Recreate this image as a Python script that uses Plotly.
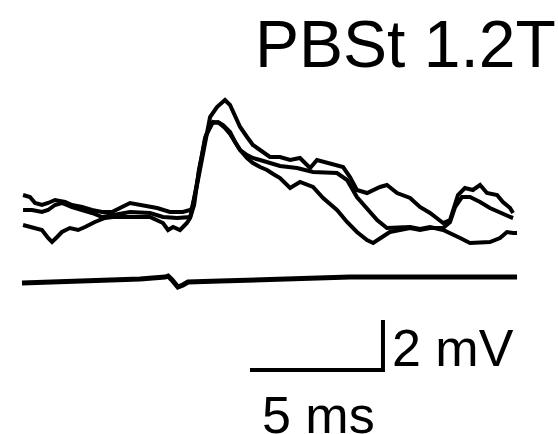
import plotly.graph_objects as go

# Evoked responses (time in ms, amplitude in mV)
t1 = [0.04, 0.38, 0.75, 0.98, 1.13, 1.32, 1.50, 1.80, 2.11, 2.37, 2.74, 3.12, 3.42, 4.06, 4.81, 5.30, 5.49, 5.68, 5.94, 6.20, 6.32,
      6.47, 6.65, 6.92, 7.18, 7.41, 7.63, 7.82, 8.01, 8.20, 8.46, 8.68, 8.95, 9.21, 9.44, 9.70, 10.08, 10.45, 10.94, 11.32, 11.84,
      12.22, 12.59, 12.97, 13.20, 13.57, 13.83, 14.21, 14.59, 14.96, 15.34, 15.83, 16.09, 16.28, 16.54, 16.84, 17.22, 17.59, 17.97, 18.35, 18.46]
v1 = [-0.60, -0.68, -0.80, -1.12, -1.28, -1.08, -0.88, -0.72, -0.80, -0.68, -0.48, -0.32, -0.28, -0.28, -0.28, -0.52, -0.80, -0.68, -0.80, -0.52, -0.32,
      0.20, 1.60, 3.00, 3.52, 3.48, 3.28, 3.04, 2.68, 2.40, 2.08, 1.88, 1.72, 1.60, 1.44, 1.28, 0.88, 1.12, 0.92, 0.48, 0.00,
      -0.48, -0.88, -1.20, -1.32, -1.08, -0.88, -0.80, -0.72, -0.80, -0.72, -0.72, -0.48, 0.12, 0.52, 0.52, 0.32, 0.08, -0.12, -0.28, -0.32]

t2 = [0.04, 0.38, 0.75, 0.98, 1.24, 1.50, 1.88, 2.26, 2.63, 3.01, 3.38, 4.06, 4.81, 5.30, 5.83, 6.32,
      6.43, 6.62, 6.88, 7.14, 7.37, 7.56, 7.82, 8.01, 8.20, 8.46, 8.68, 8.95, 9.32, 9.70, 10.34, 10.94, 11.84, 12.22,
      12.59, 12.97, 13.35, 13.72, 14.21, 14.59, 14.96, 15.34, 15.83, 16.09, 16.47, 16.84, 17.22, 17.59, 17.97, 18.23, 18.46, 18.61]
v2 = [0.00, 0.00, -0.08, 0.00, 0.20, 0.28, 0.12, 0.00, -0.12, -0.28, -0.20, -0.08, -0.12, -0.28, -0.32, -0.28,
      0.20, 1.40, 2.88, 3.48, 3.52, 3.40, 3.12, 2.72, 2.40, 2.20, 2.08, 2.00, 1.88, 1.76, 1.68, 1.52, 1.48, 1.20,
      0.52, 0.08, -0.40, -0.72, -0.72, -0.68, -0.76, -0.68, -0.80, -0.92, -1.12, -1.32, -1.28, -1.28, -1.12, -0.88, -0.92, -0.92]

t3 = [0.04, 0.30, 0.49, 0.75, 0.98, 1.24, 1.62, 1.88, 2.26, 2.63, 3.01, 3.38, 4.06, 4.55, 5.08, 5.56, 6.05, 6.32,
      6.39, 6.58, 6.88, 7.07, 7.33, 7.63, 7.82, 8.01, 8.20, 8.46, 8.68, 8.95, 9.32, 9.70, 10.08, 10.45, 10.83, 11.09,
      11.58, 12.07, 12.33, 12.59, 12.97, 13.46, 13.72, 14.10, 14.59, 14.96, 15.34, 15.60, 15.83, 16.09, 16.20, 16.39,
      16.65, 16.95, 17.22, 17.48, 17.86, 18.08, 18.35, 18.46]
v3 = [0.60, 0.52, 0.28, 0.20, 0.28, 0.40, 0.32, 0.20, 0.12, 0.00, -0.08, -0.08, 0.28, 0.20, 0.08, -0.08, -0.08, 0.00,
      0.08, 1.00, 2.80, 3.72, 4.12, 4.40, 4.20, 3.72, 3.32, 2.92, 2.60, 2.40, 2.12, 2.12, 2.00, 2.08, 1.68, 2.00,
      1.88, 1.72, 1.32, 0.80, 0.68, 0.92, 1.00, 0.68, 0.48, 0.12, -0.12, -0.32, -0.52, -0.40, 0.00, 0.60,
      0.88, 0.80, 1.00, 0.68, 0.60, 0.32, 0.08, -0.12]

# Reference (stimulus) trace
t_ref = [0.00, 1.43, 2.93, 4.44, 5.38, 5.49, 5.64, 5.86, 6.05, 6.24, 7.44, 8.95, 10.38, 12.33, 14.21, 16.09, 18.61]
v_ref = [-2.92, -2.88, -2.84, -2.76, -2.68, -2.64, -2.80, -3.08, -3.00, -2.88, -2.84, -2.80, -2.72, -2.68, -2.68, -2.68, -2.68]

# Scale bar: 5 ms horizontal, 2 mV vertical
bar_t0 = 8.57
bar_v0 = -6.4
bar_ms = 5
bar_mv = 2

title_text = "PBSt 1.2T"
ms_label = "5 ms"
mv_label = "2 mV"

fig = go.Figure()
for t, v in [(t1, v1), (t2, v2), (t3, v3)]:
    fig.add_trace(go.Scatter(x=t, y=v, mode="lines",
                             line=dict(color="black", width=4),
                             hoverinfo="skip", showlegend=False))
fig.add_trace(go.Scatter(x=t_ref, y=v_ref, mode="lines",
                         line=dict(color="black", width=5),
                         hoverinfo="skip", showlegend=False))
fig.add_trace(go.Scatter(x=[bar_t0, bar_t0 + bar_ms, bar_t0 + bar_ms],
                         y=[bar_v0, bar_v0, bar_v0 + bar_mv], mode="lines",
                         line=dict(color="black", width=4),
                         hoverinfo="skip", showlegend=False))

font = "Liberation Sans, Arial, sans-serif"
fig.add_annotation(x=8.68, y=6.66, text=title_text, showarrow=False,
                   xanchor="left", yanchor="middle",
                   font=dict(family=font, size=66, color="black"))
fig.add_annotation(x=13.83, y=-5.5, text=mv_label, showarrow=False,
                   xanchor="left", yanchor="middle",
                   font=dict(family=font, size=52, color="black"))
fig.add_annotation(x=8.95, y=-8.18, text=ms_label, showarrow=False,
                   xanchor="left", yanchor="middle",
                   font=dict(family=font, size=52, color="black"))

fig.update_layout(
    width=558, height=434,
    margin=dict(l=0, r=0, t=0, b=0),
    paper_bgcolor="white", plot_bgcolor="white",
    xaxis=dict(range=[-0.827, 20.15], visible=False, fixedrange=True),
    yaxis=dict(range=[-8.96, 8.4], visible=False, fixedrange=True),
)
fig.write_html("out.html", config={"displayModeBar": False})
